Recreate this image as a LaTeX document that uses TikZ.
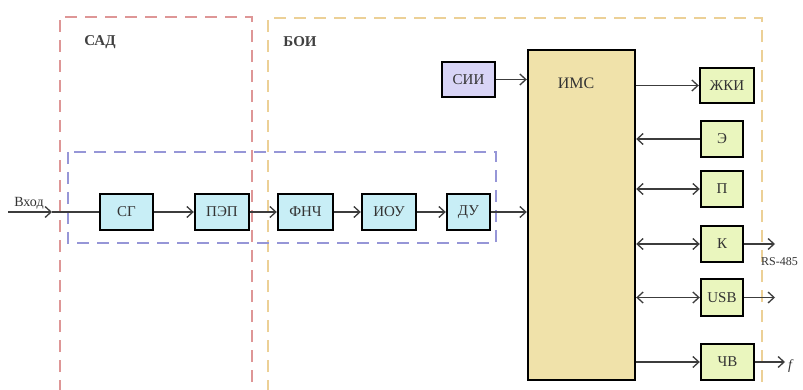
\documentclass[tikz,border=0pt]{standalone}
\usepackage{fontspec}
\setmainfont{Liberation Serif}
\usetikzlibrary{arrows.meta}
\definecolor{cyanf}{RGB}{200,238,246}
\definecolor{greenf}{RGB}{234,246,190}
\definecolor{imsf}{RGB}{240,226,170}
\definecolor{siif}{RGB}{216,212,246}
\definecolor{redd}{RGB}{222,150,150}
\definecolor{yeld}{RGB}{236,208,150}
\definecolor{blued}{RGB}{150,150,215}
\definecolor{connc}{RGB}{60,60,60}
\begin{document}
\begin{tikzpicture}[x=1pt,y=-1pt,
  blk/.style={draw=black,line width=2.4pt,inner sep=0pt,font=\fontsize{15}{17}\selectfont,text=black!80},
  cyanblk/.style={blk,fill=cyanf,minimum height=36pt},
  greenblk/.style={blk,fill=greenf,minimum height=36pt},
  conn/.style={draw=connc,line width=1.5pt},
  arr/.style={conn,-{Straight Barb[length=6pt,width=11pt,line width=1.3pt]}},
  darr/.style={conn,{Straight Barb[length=6pt,width=11pt,line width=1.3pt]}-{Straight Barb[length=6pt,width=11pt,line width=1.3pt]}},
  grp/.style={line width=2.2pt,dash pattern=on 12pt off 8pt},
  lbl/.style={font=\fontsize{15}{17}\selectfont\bfseries,text=black!75}]
\useasboundingbox (0,0) rectangle (803,390);
\fill[white] (0,0) rectangle (803,390);
% group frames
\draw[grp,draw=redd] (60,392) -- (60,17) -- (252,17) -- (252,392);
\draw[grp,draw=yeld] (268,392) -- (268,18) -- (762,18) -- (762,392);
\draw[grp,draw=blued] (68,152) rectangle (496,243);
\node[lbl] (sad) at (100,42) {САД};
\node[lbl] (boi) at (300,42) {БОИ};
% chain blocks
\node[cyanblk,minimum width=53pt] (sg) at (126.5,212) {СГ};
\node[cyanblk,minimum width=54pt] (pep) at (222,212) {ПЭП};
\node[cyanblk,minimum width=55pt] (fnch) at (305.5,212) {ФНЧ};
\node[cyanblk,minimum width=54pt] (iou) at (389,212) {ИОУ};
\node[cyanblk,minimum width=43pt] (du) at (468.5,212) {ДУ};
% IMS
\node[blk,fill=imsf,minimum width=107pt,minimum height=330pt] (ims) at (581.5,215) {};
\node[font=\fontsize{16}{18}\selectfont,text=black!80] (imsl) at (576,83) {ИМС};
\node[blk,fill=siif,minimum width=53pt,minimum height=35pt] (sii) at (468.5,79.5) {СИИ};
% right blocks
\node[greenblk,minimum width=54pt,minimum height=35pt] (zhki) at (727,85.5) {ЖКИ};
\node[greenblk,minimum width=42pt] (e) at (722,139) {Э};
\node[greenblk,minimum width=42pt] (p) at (722,189) {П};
\node[greenblk,minimum width=42pt] (k) at (722,244) {К};
\node[greenblk,minimum width=42pt,minimum height=37pt] (usb) at (722,297.5) {USB};
\node[greenblk,minimum width=53pt] (chv) at (727.5,362) {ЧВ};
% input
\coordinate (in) at (8,212);
\coordinate (inmid) at (52,212);
\node[font=\fontsize{14}{16}\selectfont,text=black!80] (inl) at (29,203) {Вход};
\draw[arr] (in) -- (inmid);
\draw[conn] (inmid) -- (sg.west);
% chain
\draw[arr] (sg) -- (pep);
\draw[arr] (pep) -- (fnch);
\draw[arr] (fnch) -- (iou);
\draw[arr] (iou) -- (du);
\draw[arr] (du.east) -- (du.east -| ims.west);
\draw[arr] (sii.east) -- (sii.east -| ims.west);
% right connections
\draw[arr] (ims.east |- zhki.west) -- (zhki.west);
\draw[arr] (e.west) -- (e.west -| ims.east);
\draw[darr] (ims.east |- p.west) -- (p.west);
\draw[darr] (ims.east |- k.west) -- (k.west);
\draw[darr] (ims.east |- usb.west) -- (usb.west);
\draw[arr] (ims.east |- chv.west) -- (chv.west);
% outputs
\coordinate (kout) at (775,244);
\coordinate (usbout) at (775,297.5);
\coordinate (chvout) at (785,362);
\draw[arr] (k.east) -- (kout);
\draw[arr] (usb.east) -- (usbout);
\draw[arr] (chv.east) -- (chvout);
\node[anchor=west,inner sep=0pt,font=\fontsize{12}{14}\selectfont,text=black!80] (rs) at (761,262) {RS-485};
\node[anchor=west,inner sep=0pt,font=\fontsize{14}{16}\selectfont\itshape,text=black!80] (fl) at (788,366) {f};
\end{tikzpicture}
\end{document}
